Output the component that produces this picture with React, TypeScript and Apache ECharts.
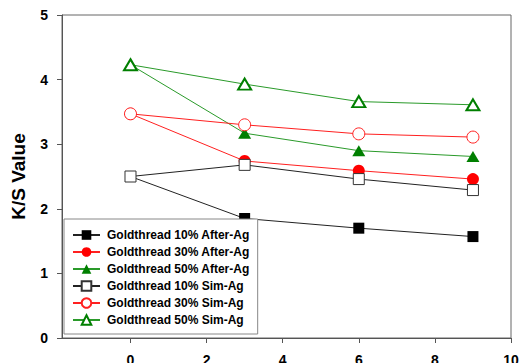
import React, { useEffect, useRef } from "react";
import * as echarts from "echarts";

const xValues = [0, 3, 6, 9];
const seriesNames = [
  "Goldthread 10% After-Ag",
  "Goldthread 30% After-Ag",
  "Goldthread 50% After-Ag",
  "Goldthread 10% Sim-Ag",
  "Goldthread 30% Sim-Ag",
  "Goldthread 50% Sim-Ag",
];
const after10 = [2.5, 1.85, 1.7, 1.57];
const after30 = [3.47, 2.74, 2.59, 2.46];
const after50 = [4.23, 3.17, 2.9, 2.81];
const sim10 = [2.5, 2.68, 2.46, 2.29];
const sim30 = [3.47, 3.3, 3.16, 3.11];
const sim50 = [4.23, 3.93, 3.66, 3.61];
const xTicks = [0, 2, 4, 6, 8, 10];
const yTicks = [0, 1, 2, 3, 4, 5];

const FONT = "'Liberation Sans', Arial, sans-serif";

function mk(name: string, vals: number[], symbol: string, size: any, color: string, lineColor: string, open: boolean, bw: number) {
  return {
    name,
    type: "line",
    data: xValues.map((x, i) => [x, vals[i]]),
    symbol,
    symbolSize: size,
    showAllSymbol: true,
    lineStyle: { color: lineColor, width: 1 },
    itemStyle: open
      ? { color: "#fff", borderColor: color, borderWidth: bw }
      : { color, borderColor: color, borderWidth: 0 },
    emphasis: { disabled: true },
  };
}

export default function App() {
  const ref = useRef<HTMLDivElement>(null);
  useEffect(() => {
    if (!ref.current) return;
    const chart = echarts.init(ref.current, undefined, { renderer: "svg" });
    chart.setOption({
      animation: false,
      backgroundColor: "#fff",
      grid: {
        left: 62,
        right: 14,
        top: 15,
        bottom: 25,
        show: true,
        borderColor: "#666",
        borderWidth: 1,
        containLabel: false,
        outerBoundsMode: "none",
      },
      xAxis: {
        type: "value",
        min: -1.8,
        max: 10,
        splitLine: { show: false },
        axisLine: { onZero: false, lineStyle: { color: "#555", width: 1 } },
        axisTick: { show: true, length: 5, lineStyle: { color: "#555" }, customValues: xTicks },
        axisLabel: {
          customValues: xTicks,
          fontSize: 14,
          fontWeight: "bold",
          color: "#000",
          fontFamily: FONT,
          margin: 15,
        },
      },
      yAxis: {
        type: "value",
        min: 0,
        max: 5,
        interval: 1,
        splitLine: { show: false },
        axisLine: { show: true, onZero: false, lineStyle: { color: "#555", width: 1 } },
        axisTick: { show: true, length: 5, lineStyle: { color: "#555" } },
        axisLabel: {
          fontSize: 14,
          fontWeight: "bold",
          color: "#000",
          fontFamily: FONT,
          margin: 14,
          formatter: (v: number) => (yTicks.includes(v) ? String(v) : ""),
        },
        name: "K/S Value",
        nameLocation: "middle",
        nameGap: 34,
        nameTextStyle: { fontSize: 19, fontWeight: "bold", color: "#000", fontFamily: FONT },
      },
      legend: {
        orient: "vertical",
        left: 64,
        top: 219,
        padding: [10, 8, 8, 8],
        itemWidth: 27,
        itemHeight: 12,
        itemGap: 5,
        backgroundColor: "#fff",
        borderColor: "#888",
        borderWidth: 1,
        selectedMode: false,
        textStyle: { fontSize: 12, fontWeight: "bold", color: "#000", fontFamily: FONT, padding: [0, 0, 0, 2] },
        data: seriesNames,
      },
      series: [
        mk(seriesNames[0], after10, "rect", 11, "#000", "#222", false, 0),
        mk(seriesNames[1], after30, "circle", 12, "#ff0000", "#ff2020", false, 0),
        mk(seriesNames[2], after50, "triangle", [13, 11], "#007f00", "#2a9a2a", false, 0),
        mk(seriesNames[3], sim10, "rect", 11, "#333", "#222", true, 1),
        mk(seriesNames[4], sim30, "circle", 12, "#ff2020", "#ff2020", true, 1),
        mk(seriesNames[5], sim50, "triangle", [13, 11], "#007f00", "#2a9a2a", true, 2),
      ],
    });
    return () => chart.dispose();
  }, []);
  return <div ref={ref} style={{ width: 525, height: 363, position: "absolute", left: 0, top: 0 }} />;
}
